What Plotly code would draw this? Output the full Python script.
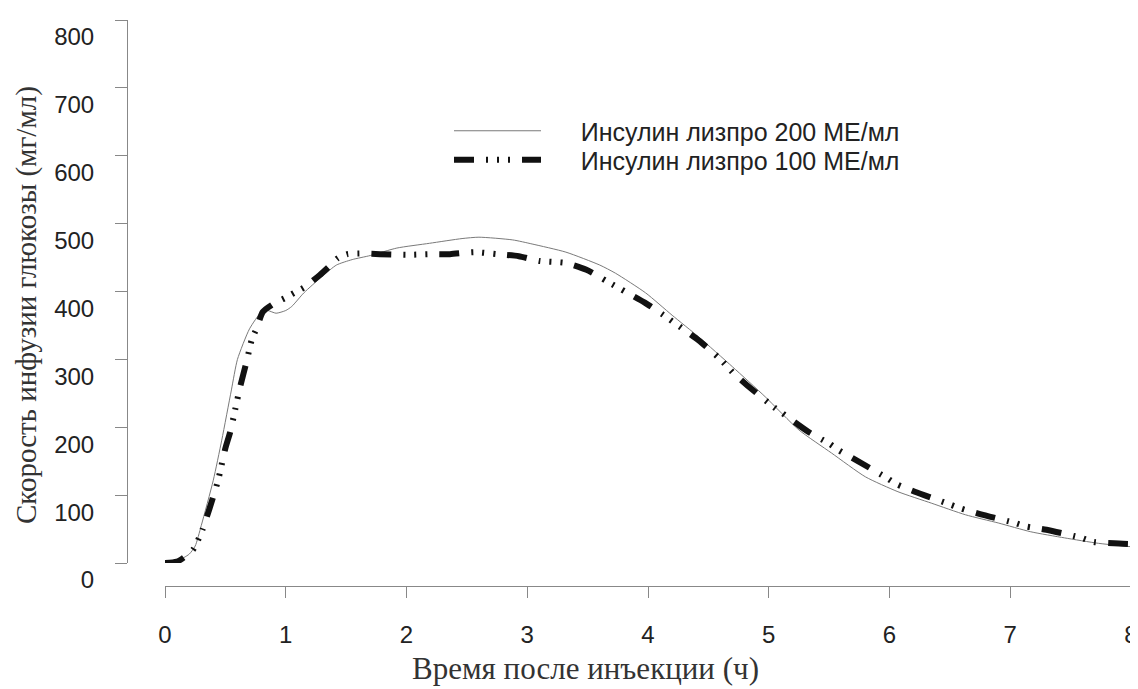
import plotly.graph_objects as go

# ---- data ----
x_200 = [0.0, 0.1, 0.2, 0.25, 0.3, 0.4, 0.47, 0.55, 0.6, 0.7, 0.8, 0.85, 0.92, 1.0, 1.05,
         1.15, 1.3, 1.42, 1.55, 1.7, 1.92, 2.19, 2.46, 2.6, 2.88, 3.04, 3.32, 3.6, 3.73,
         3.98, 4.2, 4.42, 4.7, 4.97, 5.25, 5.52, 5.8, 6.07, 6.35, 6.63, 6.9, 7.17, 7.45,
         7.73, 8.0]
y_200 = [0, 3, 13, 25, 55, 122, 181, 255, 300, 345, 370, 372, 368, 372, 378,
         398, 422, 439, 447, 453, 464, 471, 478, 480, 476, 470, 458, 439, 427,
         398, 365, 333, 289, 245, 196, 162, 127, 105, 88, 71, 59, 46, 37,
         29, 24]

x_100 = [0.0, 0.1, 0.23, 0.31, 0.37, 0.44, 0.5, 0.54, 0.58, 0.62, 0.68, 0.72, 0.76, 0.81,
         0.91, 0.99, 1.07, 1.16, 1.28, 1.36, 1.43, 1.51, 1.61, 1.78, 2.0, 2.2, 2.36, 2.56,
         2.75, 2.93, 3.1, 3.32, 3.49, 3.66, 3.82, 3.97, 4.13, 4.28, 4.42, 4.6, 4.7, 4.82,
         5.04, 5.11, 5.33, 5.5, 5.58, 5.72, 5.98, 6.06, 6.21, 6.49, 6.58, 6.75, 7.04, 7.13,
         7.3, 7.59, 7.69, 7.86, 8.0]
y_100 = [0, 2, 19, 49, 81, 122, 169, 193, 225, 258, 300, 330, 346, 370,
         383, 390, 398, 407, 424, 437, 449, 455, 456, 455, 454, 455, 455, 458,
         455, 452, 445, 442, 432, 415, 399, 384, 365, 346, 328, 300, 281, 262,
         230, 221, 193, 176, 166, 152, 125, 116, 105, 87, 81, 72, 59, 54,
         49, 37, 31, 29, 28]

series_names = ["Инсулин лизпро 200 МЕ/мл", "Инсулин лизпро 100 МЕ/мл"]
x_ticks = [0, 1, 2, 3, 4, 5, 6, 7, 8]
y_ticks = [0, 100, 200, 300, 400, 500, 600, 700, 800]
x_title = "Время после инъекции (ч)"
y_title = "Скорость инфузии глюкозы (мг/мл)"

# page has an 8px body margin, so the figure is drawn 8px smaller
OFF = 8
W, H = 1138 - OFF, 689 - OFF
ml, mr, mt, mb = 127 - OFF, 7, 20 - OFF, 103
pw, ph = W - ml - mr, H - mt - mb
axis_bottom = H - mb          # pixel row of the x axis line in figure coords


def px_x(p):  # reference page x -> paper x
    return (p - OFF - ml) / pw


def px_y(p):  # reference page y -> paper y
    return (axis_bottom - (p - OFF)) / ph


pad = "\u00a0" * 5

fig = go.Figure()
fig.add_trace(go.Scatter(
    x=x_200, y=y_200, mode="lines", name=pad + series_names[0], legend="legend",
    line=dict(color="#7a7a7a", width=1, shape="spline", smoothing=0.6),
))
fig.add_trace(go.Scatter(
    x=x_100, y=y_100, mode="lines", name=pad + series_names[1], legend="legend2",
    line=dict(color="#111111", width=6, shape="spline", smoothing=0.6,
              dash="20px,12px,2px,9px,2px,9px,2px,12px"),
))

tick_font = dict(family="Liberation Sans, Arial, sans-serif", size=24, color="#222222")
legend_font = dict(family="Liberation Sans, Arial, sans-serif", size=25, color="#222222")
ytitle_font = dict(family="Liberation Serif, Times New Roman, serif", size=29, color="#333333")
xtitle_font = dict(family="Liberation Serif, Times New Roman, serif", size=31, color="#333333")

legend_common = dict(xanchor="left", yanchor="top", font=legend_font,
                     bgcolor="rgba(0,0,0,0)", itemwidth=87)

fig.update_layout(
    width=W, height=H,
    margin=dict(l=ml, r=mr, t=mt, b=mb, pad=0, autoexpand=False),
    paper_bgcolor="white", plot_bgcolor="white",
    showlegend=True,
    legend=dict(x=px_x(449), y=px_y(108), **legend_common),
    legend2=dict(x=px_x(449), y=px_y(137), **legend_common),
    xaxis=dict(
        range=[0, 8], domain=[px_x(165), 1], anchor="free", position=0,
        tickvals=x_ticks, ticks="outside", ticklen=11, tickcolor="#888888", tickwidth=1,
        showline=True, linecolor="#888888", linewidth=1,
        showgrid=False, zeroline=False, tickfont=tick_font,
        ticklabelstandoff=16, ticklabeloverflow="allow", automargin=False,
    ),
    yaxis=dict(
        range=[0, 800], domain=[px_y(563), 1], anchor="free", position=0,
        tickvals=y_ticks, ticks="outside", ticklen=12, tickcolor="#888888", tickwidth=1,
        showline=True, linecolor="#888888", linewidth=1,
        showgrid=False, zeroline=False, tickfont=tick_font,
        ticklabelstandoff=16, ticklabelshift=17, ticklabeloverflow="allow",
        automargin=False,
    ),
    annotations=[
        dict(text=x_title, xref="paper", yref="paper",
             x=px_x(585), y=px_y(668), xanchor="center", yanchor="middle",
             showarrow=False, font=xtitle_font),
        dict(text=y_title, xref="paper", yref="paper", textangle=-90,
             x=px_x(26), y=px_y(305), xanchor="center", yanchor="middle",
             showarrow=False, font=ytitle_font),
    ],
)

fig.write_html("out.html")
